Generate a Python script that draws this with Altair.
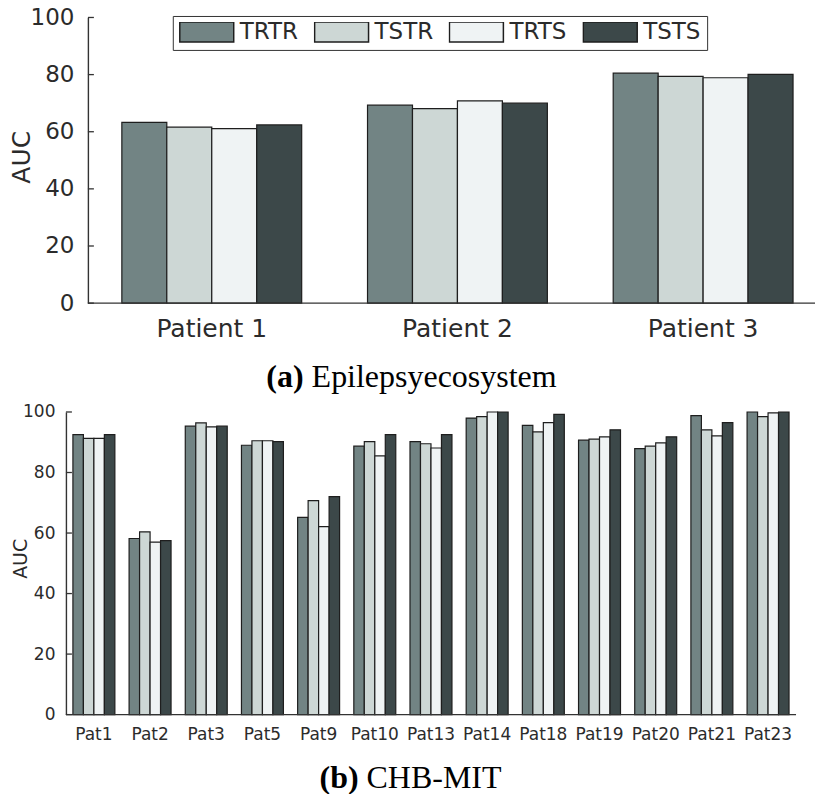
import altair as alt
import pandas as pd

# ---------------- data ----------------
series = ["TRTR", "TSTR", "TRTS", "TSTS"]
series_colors = ["#728484", "#cdd7d5", "#eff3f4", "#3c4849"]

epi_patients = ["Patient 1", "Patient 2", "Patient 3"]
epi_trtr = [63.3, 69.3, 80.5]
epi_tstr = [61.6, 68.1, 79.4]
epi_trts = [61.1, 70.8, 78.9]
epi_tsts = [62.4, 70.0, 80.1]

chb_patients = ["Pat1", "Pat2", "Pat3", "Pat5", "Pat9", "Pat10", "Pat13",
                "Pat14", "Pat18", "Pat19", "Pat20", "Pat21", "Pat23"]
chb_trtr = [92.5, 58.2, 95.3, 89.0, 65.2, 88.7, 90.2, 98.0, 95.6, 90.7, 87.9, 98.8, 100.0]
chb_tstr = [91.3, 60.4, 96.4, 90.5, 70.7, 90.2, 89.5, 98.5, 93.4, 91.0, 88.7, 94.1, 98.5]
chb_trts = [91.3, 57.0, 95.1, 90.5, 62.1, 85.5, 88.1, 100.0, 96.5, 91.8, 89.8, 92.1, 99.7]
chb_tsts = [92.5, 57.5, 95.3, 90.2, 72.0, 92.5, 92.5, 100.0, 99.2, 94.1, 91.8, 96.5, 100.0]

y_ticks = [0, 20, 40, 60, 80, 100]

caption_a = ["(a)", "Epilepsyecosystem"]
caption_b = ["(b)", "CHB-MIT"]

TXT = "#2b2b2b"
AX = "#333333"
SANS = "DejaVu Sans"
SERIF = "Liberation Serif"


def to_long(patients, cols):
    rows = []
    for s, vals in zip(series, cols):
        for p, v in zip(patients, vals):
            rows.append({"patient": p, "series": s, "auc": v})
    return pd.DataFrame(rows)


epi_df = to_long(epi_patients, [epi_trtr, epi_tstr, epi_trts, epi_tsts])
chb_df = to_long(chb_patients, [chb_trtr, chb_tstr, chb_trts, chb_tsts])
tick_df = pd.DataFrame({"auc": y_ticks})
base_df = pd.DataFrame({"auc": [0]})

color_scale = alt.Scale(domain=series, range=series_colors)


def panel(df, patients, width, height, p_inner, p_outer, p_align,
          xlab_size, xlab_pad, ylab_size, ylab_pad, title_size, title_x, title_y,
          legend, y_shift):
    y_axis = alt.Axis(values=y_ticks, title="AUC", titleX=title_x, titleY=title_y,
                      titleAngle=270, titleAlign="center", titleBaseline="middle",
                      titleFont=SANS, titleFontSize=title_size, titleFontWeight="normal",
                      titleColor=TXT, ticks=False, labelPadding=ylab_pad,
                      labelFontSize=ylab_size, labelFont=SANS, labelColor=TXT,
                      domainColor=AX, domainWidth=1.4, grid=False, offset=-y_shift)
    y_scale = alt.Scale(domain=[0, 100], nice=False, zero=True)
    bars = alt.Chart(df).mark_bar(stroke="#1e1e1e", strokeWidth=1.2, opacity=1).encode(
        x=alt.X("patient:N", sort=patients,
                scale=alt.Scale(paddingInner=p_inner, paddingOuter=p_outer, align=p_align),
                axis=alt.Axis(title=None, labelAngle=0, ticks=False, labelPadding=xlab_pad,
                              labelFontSize=xlab_size, labelFont=SANS, labelColor=TXT,
                              domain=False, labelOverlap=False, grid=False)),
        xOffset=alt.XOffset("series:N", sort=series,
                            scale=alt.Scale(paddingInner=0, paddingOuter=0)),
        y=alt.Y("auc:Q", scale=y_scale, axis=y_axis),
        color=alt.Color("series:N", sort=series, scale=color_scale, legend=legend),
    )
    ticks = alt.Chart(tick_df).mark_rule(color=AX, strokeWidth=1.3).encode(
        y=alt.Y("auc:Q", scale=y_scale, axis=y_axis),
        x=alt.value(y_shift),
        x2=alt.value(y_shift + 6),
    )
    baseline = alt.Chart(base_df).mark_rule(color=AX, strokeWidth=1.4).encode(
        y=alt.Y("auc:Q", scale=y_scale, axis=y_axis),
        x=alt.value(y_shift),
        x2=alt.value(width),
    )
    return alt.layer(bars, ticks, baseline).properties(width=width, height=height)


legend_top = alt.Legend(
    title=None, orient="none", legendX=107, legendY=-1.5, direction="horizontal",
    symbolType="M-1,-0.37H1V0.37H-1Z", symbolSize=2916, clipHeight=20,
    symbolStrokeColor="#1e1e1e", symbolStrokeWidth=1.5, symbolOpacity=1,
    labelFontSize=23, labelFont=SANS, labelColor=TXT, labelOffset=5,
    columnPadding=15, padding=6, strokeColor=AX, fillColor="white",
)

top = panel(epi_df, epi_patients, 750, 286, 0.268, 0.1585, 0.718,
            25, 13.5, 23, 14, 25, -66.5, 139.5, legend_top, 22)
bottom = panel(chb_df, chb_patients, 731, 303, 0.2533, 0.1244, 0.5,
               17, 11.5, 17, 11, 19, -45, 146.5, None, 0)


def caption(parts, x_split, y, h):
    bold = alt.Chart(pd.DataFrame({"t": [parts[0]]})).mark_text(
        font=SERIF, fontSize=32, fontWeight="bold", align="right",
        baseline="alphabetic", color="black").encode(
        text="t:N", x=alt.value(x_split), y=alt.value(y))
    rest = alt.Chart(pd.DataFrame({"t": [parts[1]]})).mark_text(
        font=SERIF, fontSize=32, fontWeight="normal", align="left",
        baseline="alphabetic", color="black").encode(
        text="t:N", x=alt.value(x_split + 8), y=alt.value(y))
    return alt.layer(bold, rest).properties(width=700, height=h)


cap_a = caption(caption_a, 238, 45, 61)
cap_b = caption(caption_b, 293, 45, 40)

chart = alt.vconcat(top, cap_a, bottom, cap_b, spacing=0).resolve_scale(
    x="independent", y="independent", xOffset="independent", color="independent"
).properties(
    padding={"left": 1, "top": -2, "right": 0, "bottom": 0},
    background="white",
).configure_view(stroke=None)

chart.save("out.html", embed_options={"renderer": "svg", "actions": False})
